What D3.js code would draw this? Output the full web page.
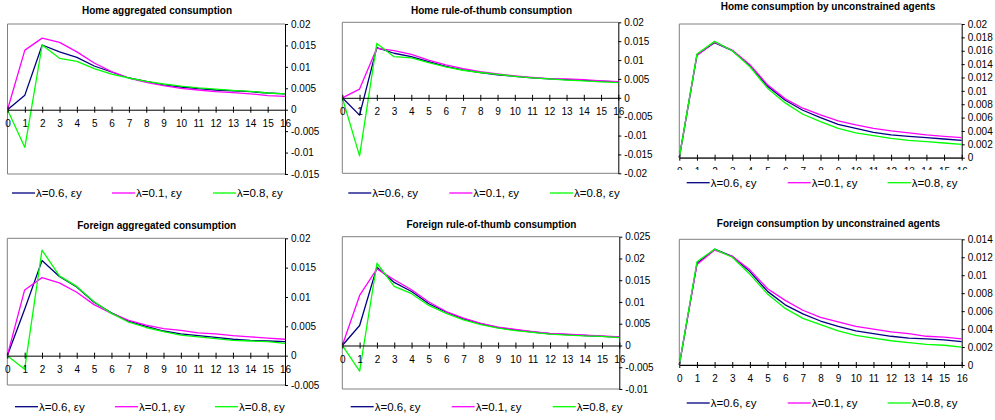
<!DOCTYPE html>
<html>
<head>
<meta charset="utf-8">
<script src="https://cdn.jsdelivr.net/npm/d3@7"></script>
<style>
  body { margin: 0; background: #fff; }
  svg { display: block; font-family: "Liberation Sans", Arial, sans-serif; }
</style>
</head>
<body>
<svg width="995" height="420"></svg>
<script>
// periods 0..16
var periods = d3.range(0, 17);
var seriesNames = ["λ=0.6, εy", "λ=0.1, εy", "λ=0.8, εy"];
var seriesColors = ["#000080", "#ff00ff", "#00ff00"];

// Home aggregated consumption
var homeAgg06 = [0, 0.0034, 0.0151, 0.0135, 0.0122, 0.0102, 0.0088, 0.0074, 0.0066, 0.0058, 0.0053, 0.0049, 0.0046, 0.0044, 0.0042, 0.0039, 0.0037];
var homeAgg01 = [0, 0.0139, 0.0167, 0.0157, 0.0135, 0.0109, 0.0089, 0.0074, 0.0064, 0.0056, 0.0050, 0.0046, 0.0042, 0.0040, 0.0037, 0.0033, 0.0031];
var homeAgg08 = [0, -0.0088, 0.0151, 0.0120, 0.0113, 0.0096, 0.0083, 0.0074, 0.0066, 0.0060, 0.0055, 0.0051, 0.0048, 0.0045, 0.0043, 0.0039, 0.0037];

// Home rule-of-thumb consumption
var homeRot06 = [0, -0.0046, 0.0133, 0.0118, 0.0109, 0.0096, 0.0083, 0.0074, 0.0067, 0.0061, 0.0057, 0.0053, 0.0050, 0.0048, 0.0046, 0.0044, 0.0042];
var homeRot01 = [0, 0.0023, 0.0131, 0.0125, 0.0115, 0.0100, 0.0087, 0.0077, 0.0069, 0.0063, 0.0058, 0.0054, 0.0051, 0.0050, 0.0048, 0.0045, 0.0043];
var homeRot08 = [0, -0.0154, 0.0144, 0.0109, 0.0106, 0.0093, 0.0082, 0.0073, 0.0067, 0.0062, 0.0057, 0.0053, 0.0050, 0.0047, 0.0045, 0.0042, 0.0040];

// Home consumption by unconstrained agents
var homeUnc06 = [0, 0.0154, 0.0172, 0.0160, 0.0138, 0.0107, 0.0086, 0.0071, 0.0060, 0.0050, 0.0044, 0.0038, 0.0034, 0.0032, 0.0030, 0.0028, 0.0026];
var homeUnc01 = [0, 0.0153, 0.0173, 0.0161, 0.0139, 0.0109, 0.0088, 0.0074, 0.0064, 0.0055, 0.0049, 0.0044, 0.0040, 0.0037, 0.0034, 0.0032, 0.0030];
var homeUnc08 = [0, 0.0155, 0.0174, 0.0160, 0.0136, 0.0104, 0.0082, 0.0065, 0.0054, 0.0044, 0.0037, 0.0033, 0.0029, 0.0026, 0.0024, 0.0022, 0.0020];

// Foreign aggregated consumption
var forAgg06 = [0, 0.0079, 0.0162, 0.0135, 0.0117, 0.0091, 0.0073, 0.0059, 0.0050, 0.0042, 0.0037, 0.0034, 0.0031, 0.0028, 0.0026, 0.0025, 0.0024];
var forAgg01 = [0, 0.0112, 0.0133, 0.0124, 0.0108, 0.0087, 0.0072, 0.0060, 0.0052, 0.0046, 0.0043, 0.0039, 0.0037, 0.0034, 0.0032, 0.0030, 0.0028];
var forAgg08 = [0, -0.0023, 0.0180, 0.0136, 0.0118, 0.0092, 0.0072, 0.0057, 0.0048, 0.0041, 0.0035, 0.0032, 0.0029, 0.0026, 0.0025, 0.0024, 0.0021];

// Foreign rule-of-thumb consumption
var forRot06 = [0, 0.0046, 0.0180, 0.0145, 0.0124, 0.0096, 0.0077, 0.0061, 0.0050, 0.0041, 0.0036, 0.0031, 0.0027, 0.0025, 0.0023, 0.0021, 0.0019];
var forRot01 = [0, 0.0115, 0.0176, 0.0151, 0.0128, 0.0100, 0.0078, 0.0063, 0.0051, 0.0042, 0.0037, 0.0032, 0.0028, 0.0026, 0.0024, 0.0022, 0.0020];
var forRot08 = [0, -0.0059, 0.0189, 0.0136, 0.0119, 0.0092, 0.0074, 0.0059, 0.0048, 0.0040, 0.0034, 0.0030, 0.0026, 0.0024, 0.0022, 0.0021, 0.0018];

// Foreign consumption by unconstrained agents
var forUnc06 = [0, 0.0113, 0.0129, 0.0121, 0.0104, 0.0082, 0.0067, 0.0057, 0.0049, 0.0043, 0.0038, 0.0035, 0.0032, 0.0030, 0.0029, 0.0028, 0.0026];
var forUnc01 = [0, 0.0112, 0.0128, 0.0121, 0.0106, 0.0085, 0.0072, 0.0061, 0.0053, 0.0048, 0.0043, 0.0040, 0.0037, 0.0035, 0.0032, 0.0031, 0.0029];
var forUnc08 = [0, 0.0115, 0.0129, 0.0120, 0.0101, 0.0079, 0.0063, 0.0052, 0.0045, 0.0038, 0.0033, 0.0030, 0.0027, 0.0025, 0.0023, 0.0022, 0.0020];

var titles = ["Home aggregated consumption", "Home rule-of-thumb consumption", "Home consumption by unconstrained agents",
              "Foreign aggregated consumption", "Foreign rule-of-thumb consumption", "Foreign consumption by unconstrained agents"];

var yTicks = [
  d3.range(-0.015, 0.0201, 0.005),
  d3.range(-0.02, 0.0201, 0.005),
  d3.range(0, 0.0201, 0.002),
  d3.range(-0.005, 0.0201, 0.005),
  d3.range(-0.01, 0.0251, 0.005),
  d3.range(0, 0.0141, 0.002)
];

var seriesByPanel = [
  [homeAgg06, homeAgg01, homeAgg08],
  [homeRot06, homeRot01, homeRot08],
  [homeUnc06, homeUnc01, homeUnc08],
  [forAgg06, forAgg01, forAgg08],
  [forRot06, forRot01, forRot08],
  [forUnc06, forUnc01, forUnc08]
];

// layout of each panel: plot box, title, legend
var layout = [
  {x0: 7.5, x1: 285, yTop: 24, yBot: 174, titleX: 157, titleY: 13.5, legY: 193, legX: [12, 112, 213]},
  {x0: 342.3, x1: 618.3, yTop: 22.3, yBot: 173.3, titleX: 491.5, titleY: 13.5, legY: 193, legX: [348.3, 449.3, 550]},
  {x0: 679.3, x1: 961.7, yTop: 24, yBot: 157.7, titleX: 828, titleY: 9.5, legY: 182.7, legX: [686.7, 787.7, 887.7], clipY: 170},
  {x0: 7.3, x1: 285, yTop: 238.3, yBot: 385, titleX: 156.7, titleY: 228.5, legY: 406.7, legX: [15, 115, 215]},
  {x0: 342.3, x1: 619.3, yTop: 236.7, yBot: 389, titleX: 491.5, titleY: 227.5, legY: 406.7, legX: [350.7, 451.7, 552.7]},
  {x0: 679.3, x1: 961.7, yTop: 239.3, yBot: 365, titleX: 828.5, titleY: 227, legY: 403, legX: [686.7, 787.7, 887.7]}
];

var svg = d3.select("svg");
var fmt = function(v) { return String(+v.toFixed(4)); };

layout.forEach(function(L, i) {
  var ticks = yTicks[i];
  var x = d3.scaleLinear().domain([0, 16]).range([L.x0, L.x1]);
  var y = d3.scaleLinear().domain([ticks[0], ticks[ticks.length - 1]]).range([L.yBot, L.yTop]);
  var g = svg.append("g");

  // plot area frame (grey)
  g.append("path")
    .attr("d", "M" + L.x1 + "," + L.yTop + "H" + L.x0 + "V" + L.yBot + "H" + L.x1)
    .attr("fill", "none")
    .attr("stroke", "#808080")
    .attr("stroke-width", 1);

  // title
  g.append("text")
    .attr("x", L.titleX).attr("y", L.titleY)
    .attr("text-anchor", "middle")
    .style("font-size", "10px").style("font-weight", "bold")
    .text(titles[i]);

  // right value axis
  var yAxis = d3.axisRight(y).tickValues(ticks).tickFormat(fmt).tickSize(3).tickSizeOuter(0).tickPadding(3);
  var ya = g.append("g").attr("transform", "translate(" + L.x1 + ",0)").call(yAxis);
  ya.select(".domain").attr("stroke", "#000");
  ya.selectAll("text").style("font-size", "10px").attr("fill", "#000").style("font-family", "'Liberation Sans', Arial, sans-serif");

  // lines
  var line = d3.line().x(function(d, k) { return x(periods[k]); }).y(function(d) { return y(d); });
  seriesByPanel[i].forEach(function(s, j) {
    g.append("path")
      .datum(s)
      .attr("d", line)
      .attr("fill", "none")
      .attr("stroke", seriesColors[j])
      .attr("stroke-width", 1.3)
      .attr("stroke-linejoin", "round");
  });

  // category axis at zero, ticks crossing (labels cut off at the chart edge in panel 3)
  var holder = g;
  if (L.clipY) {
    svg.append("clipPath").attr("id", "clip" + i)
      .append("rect").attr("x", 0).attr("y", 0).attr("width", 995).attr("height", L.clipY);
    holder = g.append("g").attr("clip-path", "url(#clip" + i + ")");
  }
  var xAxis = d3.axisBottom(x).tickValues(periods).tickFormat(d3.format("d")).tickSize(3).tickSizeOuter(0).tickPadding(7);
  var xa = holder.append("g").attr("transform", "translate(0," + y(0) + ")").call(xAxis);
  xa.selectAll(".tick").append("line").attr("y2", -3).attr("stroke", "#000");
  xa.select(".domain").attr("stroke", "#000");
  xa.selectAll("text").style("font-size", "10px").attr("fill", "#000").style("font-family", "'Liberation Sans', Arial, sans-serif");

  // legend
  seriesNames.forEach(function(name, j) {
    var lx = L.legX[j];
    g.append("line")
      .attr("x1", lx).attr("x2", lx + 23)
      .attr("y1", L.legY).attr("y2", L.legY)
      .attr("stroke", seriesColors[j]).attr("stroke-width", 1.3);
    g.append("text")
      .attr("x", lx + 24).attr("y", L.legY + 4)
      .style("font-size", "11.5px")
      .text(name);
  });
});
</script>
</body>
</html>
